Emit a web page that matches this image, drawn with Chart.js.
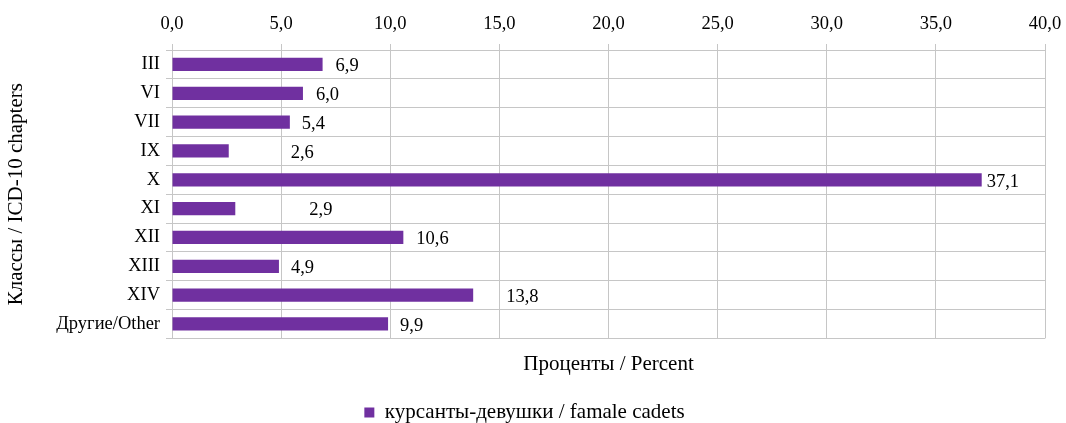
<!DOCTYPE html>
<html lang="ru">
<head>
  <meta charset="UTF-8">
  <title>Классы / ICD-10 chapters</title>
  <script src="https://cdn.jsdelivr.net/npm/chart.js@4.4.1/dist/chart.umd.min.js"></script>
  <style>
    html, body { margin: 0; padding: 0; background: #fff; }
    #wrap { width: 1066px; height: 423px; }
  </style>
</head>
<body>
  <div id="wrap"><canvas id="chart"></canvas></div>
  <script>
    const chapters = ['III', 'VI', 'VII', 'IX', 'X', 'XI', 'XII', 'XIII', 'XIV', 'Другие/Other'];
    const femaleCadets = [6.9, 6.0, 5.4, 2.6, 37.1, 2.9, 10.6, 4.9, 13.8, 9.9];
    const seriesName = 'курсанты-девушки / famale cadets';

    // extra gap between bar end and its label, as in the original
    const labelShift = [13, 13, 12, 62, 5, 74, 13, 12, 33, 12];

    const serif = '"Liberation Serif", "DejaVu Serif", serif';
    const fmt = v => v.toFixed(1).replace('.', ',');

    const valueLabels = {
      id: 'valueLabels',
      afterDatasetsDraw(chart) {
        const ctx = chart.ctx;
        const meta = chart.getDatasetMeta(0);
        ctx.save();
        ctx.font = '18.5px ' + serif;
        ctx.fillStyle = '#000';
        ctx.textBaseline = 'middle';
        ctx.textAlign = 'left';
        meta.data.forEach((bar, i) => {
          ctx.fillText(fmt(femaleCadets[i]), bar.x + labelShift[i], bar.y + 2);
        });
        ctx.restore();
      }
    };

    new Chart(document.getElementById('chart'), {
      type: 'bar',
      data: {
        labels: chapters,
        datasets: [{
          label: seriesName,
          data: femaleCadets,
          backgroundColor: '#7030a0',
          categoryPercentage: 1,
          barPercentage: 0.46
        }]
      },
      options: {
        indexAxis: 'y',
        responsive: true,
        maintainAspectRatio: false,
        animation: false,
        layout: { padding: { left: 4, right: 21, top: 6, bottom: -10 } },
        scales: {
          x: {
            position: 'top',
            min: 0,
            max: 40,
            afterFit: s => { s.height = 44; s.paddingRight = 10; s.paddingLeft = 10; },
            ticks: {
              stepSize: 5,
              color: '#000',
              font: { family: serif, size: 18.5 },
              padding: 9,
              callback: v => fmt(v)
            },
            grid: { color: '#c6c6c6', tickLength: 6 },
            border: { color: '#c6c6c6' }
          },
          x2: {
            position: 'bottom',
            axis: 'x',
            display: true,
            afterFit: s => { s.height = 61.6; s.paddingRight = 0; s.paddingLeft = 0; },
            ticks: { display: false },
            grid: { display: false, drawTicks: false },
            border: { display: false },
            title: {
              display: true,
              text: 'Проценты / Percent',
              color: '#000',
              font: { family: serif, size: 21 },
              padding: { top: 0, bottom: 23 }
            }
          },
          y: {
            afterFit: s => { s.width = 168; },
            ticks: {
              color: '#000',
              font: { family: serif, size: 18.5 },
              padding: 6
            },
            grid: { color: '#c6c6c6', tickLength: 6, offset: true },
            border: { color: '#c6c6c6' },
            title: {
              display: true,
              text: 'Классы / ICD-10 chapters',
              color: '#000',
              font: { family: serif, size: 21 },
              padding: { top: 0, bottom: 0 }
            }
          }
        },
        plugins: {
          legend: {
            position: 'bottom',
            labels: {
              color: '#000',
              font: { family: serif, size: 21 },
              boxWidth: 10,
              boxHeight: 10,
              padding: 2
            }
          },
          tooltip: { enabled: false }
        }
      },
      plugins: [valueLabels]
    });
  </script>
</body>
</html>
